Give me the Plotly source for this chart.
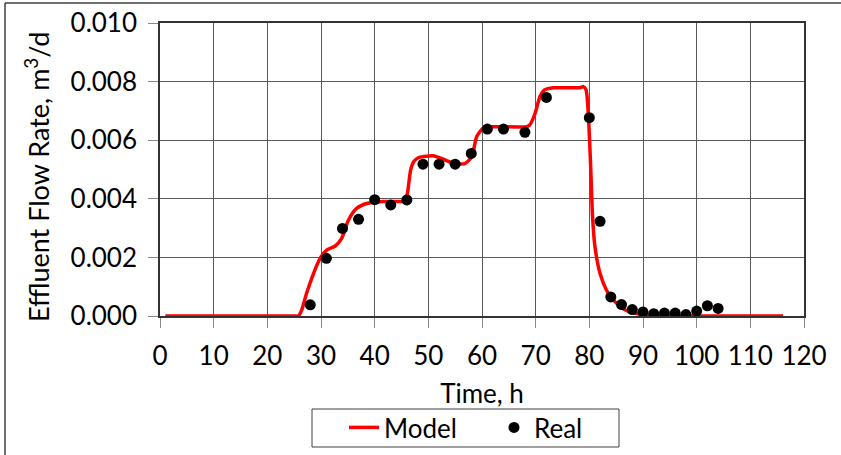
import plotly.graph_objects as go

# ---- data ----
model_t = [1, 10, 20, 25, 25.8, 26.4, 27.3, 28.6, 29.8, 31.05, 32.6, 33.85, 35.1, 36.6, 38.5, 41.6,
           45.3, 45.8, 46.2, 46.7, 47.3, 48.2, 49.1, 50.9, 52.8, 54.65, 56.8, 58.1, 59.0,
           60.2, 61.5, 68.3, 68.9, 69.9, 70.8, 71.7, 73.3, 78.25, 78.9, 79.4, 79.8, 80.25,
           80.6, 81.05, 82.0, 83.2, 84.5, 86.3, 88.8, 91.9, 97, 105, 116.1]
model_v = [0, 0, 0, 0, 0, 0.0002, 0.00077, 0.00145, 0.00196, 0.00225, 0.00238, 0.00265, 0.00327,
           0.00367, 0.00384, 0.00391, 0.00391, 0.00396, 0.0043, 0.00498, 0.00527, 0.00541,
           0.00544, 0.00547, 0.00535, 0.00521, 0.0052, 0.00544, 0.00612, 0.00641, 0.00646,
           0.00646, 0.00652, 0.00692, 0.00749, 0.00772, 0.00779, 0.00779, 0.00783, 0.00772,
           0.00692, 0.0051, 0.00339, 0.00236, 0.00145, 0.00088, 0.00054, 0.00025, 0.00008,
           0.00002, 0, 0, 0]

real_t = [28, 31, 34, 37, 40, 43, 46, 49, 52, 55, 58, 61, 64, 68, 72, 80, 82, 84, 86, 88,
          90, 92, 94, 96, 98, 100, 102, 104]
real_v = [0.00038, 0.00197, 0.00299, 0.0033, 0.00397, 0.00379, 0.00396, 0.00518, 0.00518,
          0.00518, 0.00555, 0.00638, 0.00638, 0.00627, 0.00746, 0.00677, 0.00323, 0.00065,
          0.00039, 0.00022, 0.00014, 0.00008, 0.0001, 0.0001, 0.00005, 0.00017, 0.00035,
          0.00026]

x_ticks = list(range(0, 121, 10))
y_ticks = [0, 0.002, 0.004, 0.006, 0.008, 0.010]

FONT = "Lato"
FS = 26
L, R, T, B = 160, 804, 23, 316
PW, PH = R - L, B - T


def px(x):
    return (x - L) / PW


def py(y):
    return (B - y) / PH


fig = go.Figure()
fig.add_trace(go.Scatter(x=model_t, y=model_v, mode="lines", name="Model",
                         line=dict(color="#ff0000", width=3.5, shape="spline", smoothing=0.6)))
fig.add_trace(go.Scatter(x=real_t, y=real_v, mode="markers", name="Real",
                         marker=dict(color="black", size=11)))

fig.update_layout(
    width=841, height=455,
    margin=dict(l=L, r=841 - R, t=T, b=455 - B, autoexpand=False),
    paper_bgcolor="white", plot_bgcolor="white",
    font=dict(family=FONT, size=FS, color="black"),
    showlegend=True,
    legend=dict(orientation="h", x=px(351 - 7), xanchor="left", y=py(404), yanchor="top",
                borderwidth=0, entrywidth=105, bgcolor="rgba(0,0,0,0)",
                font=dict(family=FONT, size=FS, color="black")),
    xaxis=dict(range=[0, 120], tickvals=x_ticks, ticktext=[str(v) for v in x_ticks],
               showgrid=True, gridcolor="#5a5a5a", gridwidth=1, automargin=False,
               showline=True, mirror=True, linecolor="#333333", linewidth=1.5,
               ticks="outside", ticklen=10, tickcolor="#8a8a8a", zeroline=False,
               ticklabelstandoff=6,
               title=dict(text="Time, h", standoff=15, font=dict(size=FS))),
    yaxis=dict(range=[0, 0.010], tickvals=y_ticks, ticktext=[f"{v:.3f}" for v in y_ticks],
               showgrid=True, gridcolor="#5a5a5a", gridwidth=1, automargin=False,
               showline=True, mirror=True, linecolor="#333333", linewidth=1.5,
               ticks="outside", ticklen=10, tickcolor="#8a8a8a", zeroline=False,
               ticklabelstandoff=6),
    annotations=[dict(text="Effluent Flow Rate, m<sup>3</sup>/d", xref="paper", yref="paper",
                      x=px(37), y=py(177), textangle=-90,
                      showarrow=False, xanchor="center", yanchor="middle",
                      font=dict(family=FONT, size=27, color="black"))],
    shapes=[
        dict(type="line", xref="paper", yref="paper", x0=px(5), x1=px(845),
             y0=py(3), y1=py(3), line=dict(color="#404040", width=1.5)),
        dict(type="line", xref="paper", yref="paper", x0=px(5), x1=px(5),
             y0=py(3), y1=py(460), line=dict(color="#404040", width=1.5)),
        dict(type="rect", xref="paper", yref="paper", x0=px(312), x1=px(619),
             y0=py(409), y1=py(447), line=dict(color="#404040", width=1)),
    ],
)

fig.write_html("out.html")
